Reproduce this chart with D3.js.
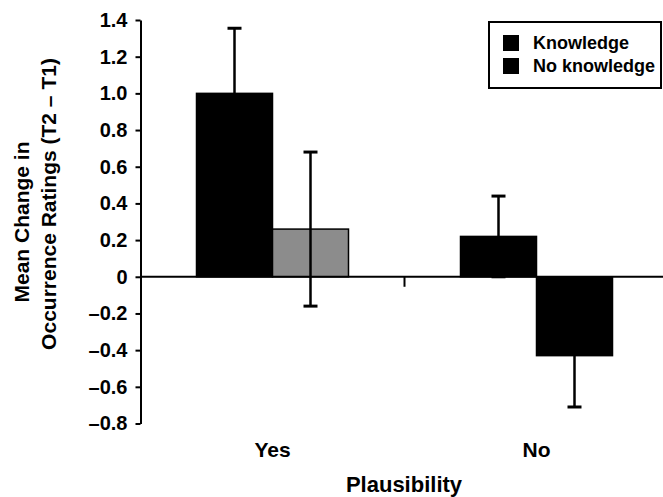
<!DOCTYPE html>
<html>
<head>
<meta charset="utf-8">
<script src="https://cdn.jsdelivr.net/npm/d3@7"></script>
<style>
  body { margin: 0; background: #fff; }
  svg { display: block; }
</style>
</head>
<body>
<script>
var width = 663;
var height = 497;

// data
var categories = ["Yes", "No"];
var series = ["Knowledge", "No knowledge"];
var knowledge = [1.0, 0.22];
var knowledgeErr = [0.355, 0.22];
var noKnowledge = [0.26, -0.43];
var noKnowledgeErr = [0.42, 0.28];
var yTicks = [-0.8, -0.6, -0.4, -0.2, 0, 0.2, 0.4, 0.6, 0.8, 1.0, 1.2, 1.4];

var rows = [];
categories.forEach(function(c, i) {
    rows.push({cat: c, series: series[0], value: knowledge[i], err: knowledgeErr[i]});
    rows.push({cat: c, series: series[1], value: noKnowledge[i], err: noKnowledgeErr[i]});
});

var font = "'Liberation Sans', Arial, Helvetica, sans-serif";

var svg = d3.select("body")
    .append("svg")
    .attr("width", width)
    .attr("height", height)
    .style("font-family", font)
    .style("font-weight", "bold");

// scales
var yScale = d3.scaleLinear()
    .domain([-0.8, 1.4])
    .range([423.5, 20]);

var x0 = d3.scaleBand()
    .domain(categories)
    .range([140.5, 668.5])
    .padding(0);

var x1 = d3.scaleBand()
    .domain(series)
    .range([56, x0.bandwidth() - 56])
    .padding(0);

// bar fill (gray for the "Yes / No knowledge" bar, as in the figure)
function barFill(d) {
    if (d.cat === "Yes" && d.series === "No knowledge") return "#8c8c8c";
    return "#000";
}

// bars
svg.selectAll("rect.bar")
   .data(rows)
   .enter()
   .append("rect")
   .attr("class", "bar")
   .attr("x", function(d) { return x0(d.cat) + x1(d.series); })
   .attr("y", function(d) { return yScale(Math.max(0, d.value)); })
   .attr("width", x1.bandwidth())
   .attr("height", function(d) { return Math.abs(yScale(d.value) - yScale(0)); })
   .attr("fill", barFill)
   .attr("stroke", "#000")
   .attr("stroke-width", 1.5);

// error bars
var errs = svg.selectAll("g.err")
   .data(rows)
   .enter()
   .append("g")
   .attr("class", "err")
   .attr("transform", function(d) {
       return "translate(" + (x0(d.cat) + x1(d.series) + x1.bandwidth() / 2) + ",0)";
   });

errs.append("line")
   .attr("x1", 0).attr("x2", 0)
   .attr("y1", function(d) { return yScale(d.value + d.err); })
   .attr("y2", function(d) { return yScale(d.value - d.err); })
   .attr("stroke", "#000")
   .attr("stroke-width", 2.5);

errs.selectAll("line.cap")
   .data(function(d) { return [d.value + d.err, d.value - d.err]; })
   .enter()
   .append("line")
   .attr("class", "cap")
   .attr("x1", -7).attr("x2", 7)
   .attr("y1", function(v) { return yScale(v); })
   .attr("y2", function(v) { return yScale(v); })
   .attr("stroke", "#000")
   .attr("stroke-width", 3);

// zero line across the plot
svg.append("line")
   .attr("x1", 140.5).attr("x2", width)
   .attr("y1", yScale(0)).attr("y2", yScale(0))
   .attr("stroke", "#000")
   .attr("stroke-width", 2);

// separator tick between the groups
svg.append("line")
   .attr("x1", x0("No")).attr("x2", x0("No"))
   .attr("y1", yScale(0)).attr("y2", yScale(0) + 10)
   .attr("stroke", "#000")
   .attr("stroke-width", 2);

// y axis
var yAxis = d3.axisLeft(yScale)
    .tickValues(yTicks)
    .tickSizeInner(5)
    .tickSizeOuter(0)
    .tickPadding(8)
    .tickFormat(function(d) {
        return d === 0 ? "0" : d3.format(".1f")(d).replace("-", "\u2013").replace("\u2212", "\u2013");
    });

var gy = svg.append("g")
    .attr("transform", "translate(140.5,0)")
    .call(yAxis);

gy.select(".domain").attr("stroke", "#000").attr("stroke-width", 2);
gy.selectAll(".tick line").attr("stroke", "#000").attr("stroke-width", 2);
gy.selectAll(".tick text")
  .attr("fill", "#000")
  .attr("font-family", font)
  .attr("font-weight", "bold")
  .attr("font-size", "20px");

// category labels
svg.selectAll("text.cat")
   .data(categories)
   .enter()
   .append("text")
   .attr("class", "cat")
   .attr("x", function(d) { return x0(d) + x0.bandwidth() / 2; })
   .attr("y", 457)
   .attr("text-anchor", "middle")
   .attr("font-size", "21px")
   .text(function(d) { return d; });

// x title
svg.append("text")
   .attr("x", 404)
   .attr("y", 492)
   .attr("text-anchor", "middle")
   .attr("font-size", "22px")
   .text("Plausibility");

// y title, two lines
svg.append("text")
   .attr("transform", "translate(29,222) rotate(-90)")
   .attr("text-anchor", "middle")
   .attr("font-size", "21px")
   .text("Mean Change in");
svg.append("text")
   .attr("transform", "translate(56,204) rotate(-90)")
   .attr("text-anchor", "middle")
   .attr("font-size", "21px")
   .text("Occurrence Ratings (T2 \u2013 T1)");

// legend
var legend = svg.append("g").attr("transform", "translate(489,22)");
legend.append("rect")
   .attr("width", 172).attr("height", 66)
   .attr("fill", "#fff")
   .attr("stroke", "#000")
   .attr("stroke-width", 2);

var items = legend.selectAll("g.item")
   .data(series)
   .enter()
   .append("g")
   .attr("class", "item")
   .attr("transform", function(d, i) { return "translate(14," + (13 + i * 23) + ")"; });

items.append("rect")
   .attr("width", 16).attr("height", 16)
   .attr("fill", "#000");

items.append("text")
   .attr("x", 30)
   .attr("y", 14)
   .attr("font-size", "18px")
   .text(function(d) { return d; });
</script>
</body>
</html>
